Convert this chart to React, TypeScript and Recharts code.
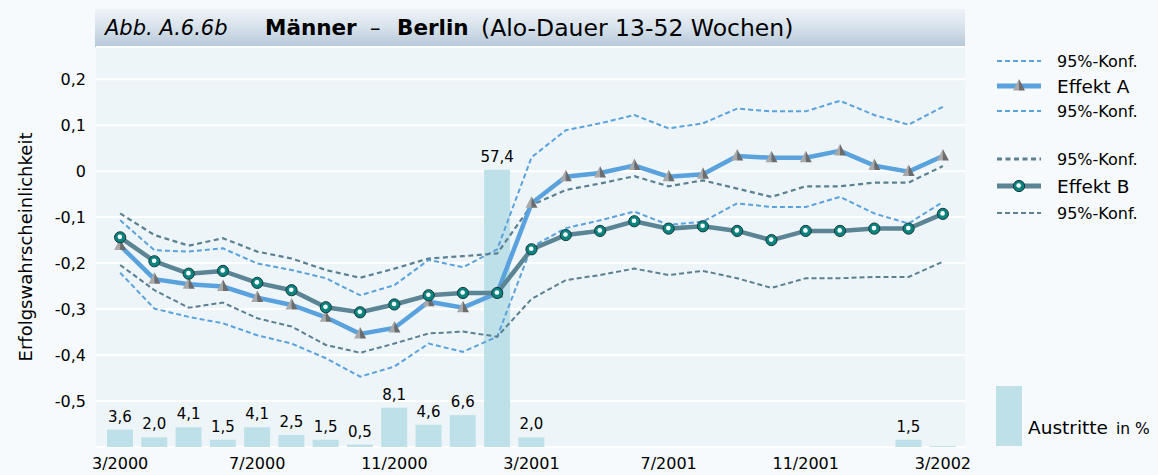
import React from 'react';
import { ComposedChart, Bar, Line, XAxis, YAxis, CartesianGrid, LabelList } from 'recharts';

const FONT = '"DejaVu Sans", "Liberation Sans", Arial, sans-serif';

// Monthly categories 3/2000 … 3/2002
const months = [
  '3/2000', '4/2000', '5/2000', '6/2000', '7/2000', '8/2000', '9/2000', '10/2000',
  '11/2000', '12/2000', '1/2001', '2/2001', '3/2001', '4/2001', '5/2001', '6/2001',
  '7/2001', '8/2001', '9/2001', '10/2001', '11/2001', '12/2001', '1/2002', '2/2002', '3/2002',
];

// Austritte in % (bars)
const austritte = [3.6, 2.0, 4.1, 1.5, 4.1, 2.5, 1.5, 0.5, 8.1, 4.6, 6.6, 57.4, 2.0, 0, 0, 0, 0, 0, 0, 0, 0, 0, 0, 1.5, 0.2];

// Effekt A with 95% confidence bounds
const effektA = [-0.162, -0.235, -0.246, -0.251, -0.275, -0.291, -0.318, -0.354, -0.341, -0.284, -0.297, -0.265, -0.07, -0.012, -0.004, 0.012, -0.012, -0.007, 0.033, 0.029, 0.029, 0.044, 0.012, -0.001, 0.033];
const effektAUpper = [-0.107, -0.172, -0.175, -0.168, -0.201, -0.215, -0.233, -0.27, -0.248, -0.193, -0.209, -0.17, 0.03, 0.089, 0.104, 0.122, 0.093, 0.104, 0.136, 0.13, 0.13, 0.153, 0.122, 0.101, 0.14];
const effektALower = [-0.221, -0.299, -0.317, -0.331, -0.357, -0.375, -0.407, -0.447, -0.425, -0.375, -0.393, -0.36, -0.165, -0.124, -0.107, -0.088, -0.117, -0.11, -0.07, -0.078, -0.078, -0.056, -0.092, -0.114, -0.067];

// Effekt B with 95% confidence bounds
const effektB = [-0.144, -0.196, -0.223, -0.217, -0.243, -0.259, -0.296, -0.307, -0.29, -0.27, -0.265, -0.265, -0.17, -0.139, -0.13, -0.109, -0.125, -0.12, -0.13, -0.15, -0.13, -0.13, -0.125, -0.125, -0.093];
const effektBUpper = [-0.092, -0.139, -0.162, -0.146, -0.175, -0.19, -0.215, -0.232, -0.212, -0.19, -0.185, -0.179, -0.074, -0.041, -0.027, -0.011, -0.033, -0.02, -0.038, -0.056, -0.033, -0.033, -0.025, -0.025, 0.011];
const effektBLower = [-0.204, -0.259, -0.297, -0.286, -0.32, -0.338, -0.378, -0.395, -0.375, -0.353, -0.349, -0.36, -0.278, -0.237, -0.226, -0.212, -0.226, -0.217, -0.233, -0.254, -0.233, -0.233, -0.23, -0.23, -0.197];

const yTicks = [-0.5, -0.4, -0.3, -0.2, -0.1, 0, 0.1, 0.2];

const data = months.map((month, i) => ({
  month,
  austritte: austritte[i],
  effektA: effektA[i],
  aUpper: effektAUpper[i],
  aLower: effektALower[i],
  effektB: effektB[i],
  bUpper: effektBUpper[i],
  bLower: effektBLower[i],
}));

const BLUE = '#5AA2DE';
const SLATE = '#5B8494';
const SLATE_DASH = '#5A8092';
const BAR = '#BEE1E9';

const fmtComma = (v: number) => (v === 0 ? '0' : String(v).replace('.', ','));

function Triangle({ cx, cy }: { cx: number; cy: number }) {
  return (
    <g>
      <polygon points={`${cx},${cy - 7} ${cx},${cy + 4.5} ${cx - 6},${cy + 4.5}`} fill="#a9a9a9" />
      <polygon points={`${cx},${cy - 7} ${cx + 6},${cy + 4.5} ${cx},${cy + 4.5}`} fill="#6c6c6c" />
    </g>
  );
}

function Ball({ cx, cy }: { cx: number; cy: number }) {
  return (
    <g>
      <circle cx={cx} cy={cy} r={5.6} fill="#0b837f" stroke="#143a3a" strokeWidth={1} />
      <circle cx={cx - 0.3} cy={cy - 0.5} r={2.3} fill="#ffffff" />
    </g>
  );
}

const TriangleDot = (props: any) => {
  const { cx, cy, index } = props;
  if (cx == null || cy == null) return <g key={`t${index}`} />;
  return <g key={`t${index}`}><Triangle cx={cx} cy={cy} /></g>;
};

const BallDot = (props: any) => {
  const { cx, cy, index } = props;
  if (cx == null || cy == null) return <g key={`b${index}`} />;
  return <g key={`b${index}`}><Ball cx={cx} cy={cy} /></g>;
};

const barLabel = (v: any) => (typeof v === 'number' && v >= 0.5 ? v.toFixed(1).replace('.', ',') : '');

function LegendPanel() {
  const x0 = 7;
  const x1 = 51;
  const xm = 29;
  const tx = 67;
  const rows = [
    { y: 21, kind: 'aConf', text: '95%-Konf.' },
    { y: 46, kind: 'a', text: 'Effekt A' },
    { y: 71, kind: 'aConf', text: '95%-Konf.' },
    { y: 119, kind: 'bConfUp', text: '95%-Konf.' },
    { y: 146, kind: 'b', text: 'Effekt B' },
    { y: 173, kind: 'bConf', text: '95%-Konf.' },
  ];
  return (
    <svg width={168} height={430} style={{ position: 'absolute', left: 990, top: 40 }} fontFamily={FONT}>
      {rows.map((r, i) => (
        <g key={i}>
          {r.kind === 'aConf' && <line x1={x0} x2={x1} y1={r.y} y2={r.y} stroke={BLUE} strokeWidth={2} strokeDasharray="5 3" />}
          {r.kind === 'bConfUp' && <line x1={x0} x2={x1} y1={r.y} y2={r.y} stroke={SLATE_DASH} strokeWidth={3} strokeDasharray="5 3.5" />}
          {r.kind === 'bConf' && <line x1={x0} x2={x1} y1={r.y} y2={r.y} stroke={SLATE_DASH} strokeWidth={2} strokeDasharray="5 3" />}
          {r.kind === 'a' && (
            <g>
              <line x1={x0} x2={x1} y1={r.y} y2={r.y} stroke={BLUE} strokeWidth={5} />
              <Triangle cx={xm} cy={r.y} />
            </g>
          )}
          {r.kind === 'b' && (
            <g>
              <line x1={x0} x2={x1} y1={r.y} y2={r.y} stroke={SLATE} strokeWidth={5} />
              <Ball cx={xm} cy={r.y} />
            </g>
          )}
          <text
            x={tx}
            y={r.y}
            dominantBaseline="central"
            fontSize={r.kind === 'a' || r.kind === 'b' ? 18.5 : 16}
            fill="#000"
          >
            {r.text}
          </text>
        </g>
      ))}
      <rect x={6} y={346} width={26} height={60} fill={BAR} />
      <text x={38} y={394} fontSize={18.5} fill="#000">
        Austritte
        <tspan dx={8} fontSize={15.5}>in %</tspan>
      </text>
    </svg>
  );
}

function TitleBanner() {
  const base: React.CSSProperties = { position: 'absolute', top: 0, lineHeight: '38px', whiteSpace: 'nowrap', color: '#000' };
  return (
    <div
      style={{
        position: 'absolute',
        left: 95,
        top: 9,
        width: 870,
        height: 38,
        background: 'linear-gradient(to bottom, #eef3f7 0%, #d9e3ec 45%, #b6c8d8 100%)',
        fontFamily: FONT,
      }}
    >
      <span style={{ ...base, left: 10, fontStyle: 'italic', fontSize: 21 }}>Abb. A.6.6b</span>
      <span style={{ ...base, left: 170, fontWeight: 'bold', fontSize: 21.5 }}>Männer</span>
      <span style={{ ...base, left: 275, fontSize: 21 }}>–</span>
      <span style={{ ...base, left: 302, fontWeight: 'bold', fontSize: 21.5 }}>Berlin</span>
      <span style={{ ...base, left: 386, fontSize: 23.5 }}>(Alo-Dauer 13-52 Wochen)</span>
    </div>
  );
}

const YLabel = (props: any) => {
  const vb = props.viewBox || {};
  const cy = (vb.y ?? 47) + (vb.height ?? 400) / 2;
  const x = 25;
  return (
    <text
      x={x}
      y={cy}
      transform={`rotate(-90 ${x} ${cy})`}
      textAnchor="middle"
      dominantBaseline="central"
      fontSize={18}
      fontFamily={FONT}
      fill="#000"
    >
      Erfolgswahrscheinlichkeit
    </text>
  );
};

export default function App() {
  const tickStyle = { fill: '#000', fontSize: 16, fontFamily: FONT };
  return (
    <div style={{ position: 'absolute', left: 0, top: 0, width: 1158, height: 475, background: '#F6FAFD', overflow: 'hidden' }}>
      <TitleBanner />
      <div style={{ position: 'absolute', left: 0, top: 0 }}>
        <ComposedChart width={1158} height={475} data={data} margin={{ top: 47, right: 193, bottom: 0, left: 0 }}>
          <CartesianGrid vertical={false} stroke="#ffffff" strokeWidth={2} fill="#EDF5F9" />
          <XAxis
            dataKey="month"
            interval={3}
            padding={{ left: 7, right: 5 }}
            height={28}
            axisLine={false}
            tickLine={false}
            tickSize={0}
            tickMargin={11}
            tick={tickStyle}
          />
          <YAxis
            domain={[-0.6, 0.27]}
            ticks={yTicks}
            width={96}
            axisLine={false}
            tickLine={false}
            tickSize={0}
            tickMargin={10}
            tickFormatter={fmtComma}
            tick={tickStyle}
            label={<YLabel />}
          />
          <YAxis yAxisId="bar" orientation="right" hide domain={[0, 82.8]} />
          <Bar dataKey="austritte" yAxisId="bar" fill={BAR} barSize={26} isAnimationActive={false}>
            <LabelList dataKey="austritte" position="top" offset={8} formatter={barLabel} style={{ fill: '#000', fontSize: 15, fontFamily: FONT }} />
          </Bar>
          <Line dataKey="aUpper" stroke={BLUE} strokeWidth={2} strokeDasharray="5 3" dot={false} isAnimationActive={false} />
          <Line dataKey="aLower" stroke={BLUE} strokeWidth={2} strokeDasharray="5 3" dot={false} isAnimationActive={false} />
          <Line dataKey="bUpper" stroke={SLATE_DASH} strokeWidth={2.2} strokeDasharray="5 3.5" dot={false} isAnimationActive={false} />
          <Line dataKey="bLower" stroke={SLATE_DASH} strokeWidth={2} strokeDasharray="5 3" dot={false} isAnimationActive={false} />
          <Line dataKey="effektA" stroke={BLUE} strokeWidth={4.5} dot={TriangleDot} isAnimationActive={false} />
          <Line dataKey="effektB" stroke={SLATE} strokeWidth={4.5} dot={BallDot} isAnimationActive={false} />
        </ComposedChart>
      </div>
      <LegendPanel />
    </div>
  );
}
